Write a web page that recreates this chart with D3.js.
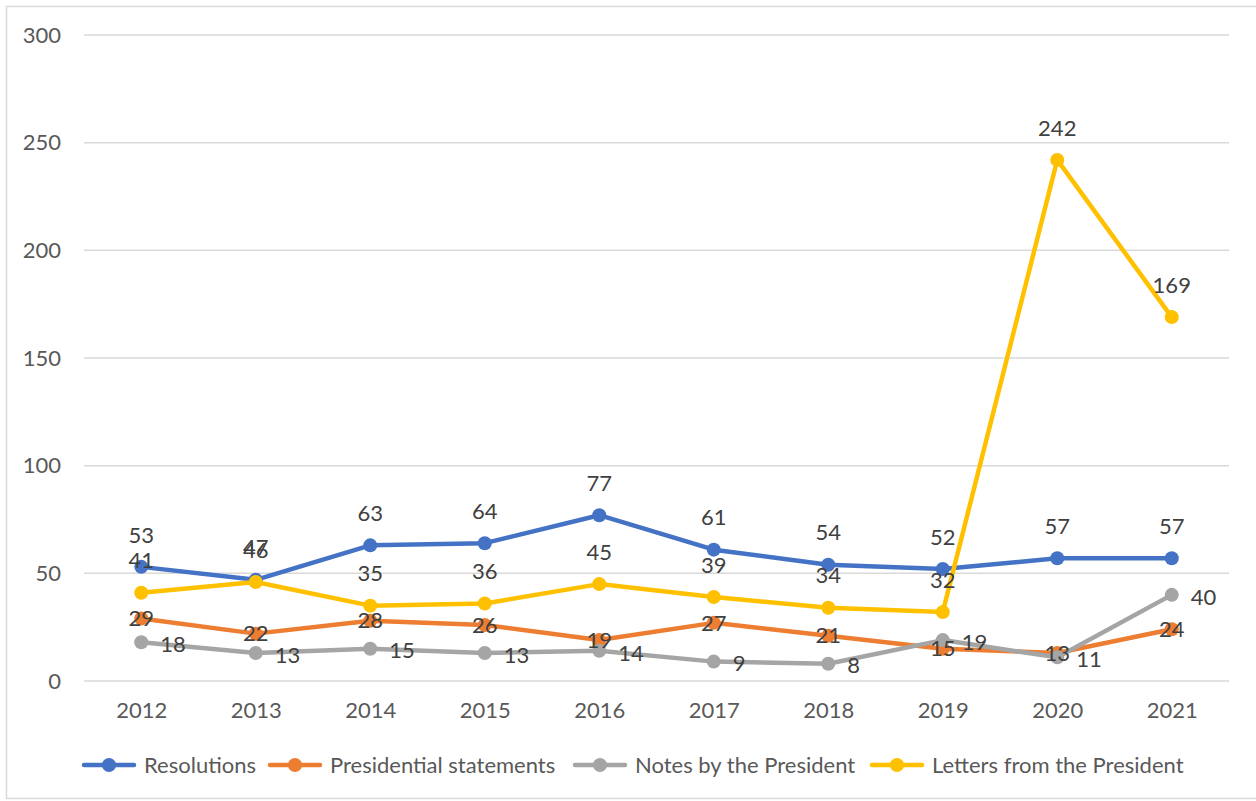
<!DOCTYPE html>
<html>
<head>
<meta charset="utf-8">
<style>
html, body { margin:0; padding:0; background:#fff; }
svg { display:block; font-family: Lato, "Open Sans", sans-serif; }
</style>
</head>
<body>
<svg width="1256" height="801"></svg>
<script src="https://d3js.org/d3.v7.min.js"></script>
<script>
var years = ["2012","2013","2014","2015","2016","2017","2018","2019","2020","2021"];
var resolutions = [53, 47, 63, 64, 77, 61, 54, 52, 57, 57];
var statements = [29, 22, 28, 26, 19, 27, 21, 15, 13, 24];
var notes = [18, 13, 15, 13, 14, 9, 8, 19, 11, 40];
var letters = [41, 46, 35, 36, 45, 39, 34, 32, 242, 169];
var yTicks = [0, 50, 100, 150, 200, 250, 300];

var series = [
  {name: "Resolutions", values: resolutions, color: "#4472C4", label: "above"},
  {name: "Presidential statements", values: statements, color: "#ED7D31", label: "center"},
  {name: "Notes by the President", values: notes, color: "#A5A5A5", label: "right"},
  {name: "Letters from the President", values: letters, color: "#FFC000", label: "above"}
];

var svg = d3.select("svg");
svg.append("rect")
    .attr("x", 6.5).attr("y", 6.5)
    .attr("width", 1260).attr("height", 792)
    .attr("fill", "#fff").attr("stroke", "#d9d9d9").attr("stroke-width", 1.5);

var margin = {top: 35, left: 84, right: 27},
    width = 1256 - margin.left - margin.right;

var x = d3.scalePoint().domain(years).range([0, width]).padding(0.5);
var y = d3.scaleLinear().domain([0, 300]).range([646, 0]);

var g = svg.append("g").attr("transform", "translate(" + margin.left + "," + margin.top + ")");

// gridlines
g.append("g")
    .selectAll("line")
    .data(yTicks)
    .join("line")
    .attr("x1", 0).attr("x2", width)
    .attr("y1", function(d) { return y(d); })
    .attr("y2", function(d) { return y(d); })
    .attr("stroke", "#d9d9d9").attr("stroke-width", 1.5);

// y axis
var yAxis = g.append("g")
    .call(d3.axisLeft(y).tickValues(yTicks).tickSize(0).tickPadding(23));
yAxis.select(".domain").remove();
yAxis.selectAll("text")
    .attr("fill", "#595959").style("font-size", "22px").style("font-family", "Lato, sans-serif");

// x axis
var xAxis = g.append("g")
    .attr("transform", "translate(0," + y(0) + ")")
    .call(d3.axisBottom(x).tickSize(0).tickPadding(21));
xAxis.select(".domain").remove();
xAxis.selectAll("text")
    .attr("fill", "#595959").style("font-size", "22px").style("font-family", "Lato, sans-serif");

var line = d3.line()
    .x(function(d, i) { return x(years[i]); })
    .y(function(d) { return y(d); });

series.forEach(function(s) {
  g.append("path")
      .datum(s.values)
      .attr("fill", "none")
      .attr("stroke", s.color)
      .attr("stroke-width", 4.5)
      .attr("stroke-linejoin", "round")
      .attr("d", line);
  g.append("g")
    .selectAll("circle")
    .data(s.values)
    .join("circle")
      .attr("cx", function(d, i) { return x(years[i]); })
      .attr("cy", function(d) { return y(d); })
      .attr("r", 7)
      .attr("fill", s.color);
});

series.forEach(function(s) {
  g.append("g")
    .selectAll("text")
    .data(s.values)
    .join("text")
      .attr("x", function(d, i) {
        return x(years[i]) + (s.label === "right" ? 19 : 0);
      })
      .attr("y", function(d) {
        if (s.label === "above") return y(d) - 32;
        if (s.label === "center") return y(d);
        return y(d) + 2;
      })
      .attr("dy", "0.35em")
      .attr("text-anchor", s.label === "right" ? "start" : "middle")
      .attr("fill", "#404040")
      .style("font-size", "22px")
      .text(function(d) { return d; });
});

// legend
var legendX = [84, 270, 575, 872];
var legend = svg.append("g").attr("transform", "translate(0,765)");
series.forEach(function(s, i) {
  var lg = legend.append("g").attr("transform", "translate(" + legendX[i] + ",0)");
  lg.append("line")
      .attr("x1", 0).attr("x2", 50).attr("y1", 0).attr("y2", 0)
      .attr("stroke", s.color).attr("stroke-width", 4.5).attr("stroke-linecap", "round");
  lg.append("circle").attr("cx", 25).attr("cy", 0).attr("r", 7).attr("fill", s.color);
  lg.append("text")
      .attr("x", 60).attr("y", 0).attr("dy", "0.35em")
      .attr("fill", "#595959").style("font-size", "22px")
      .text(s.name);
});
</script>
</body>
</html>
